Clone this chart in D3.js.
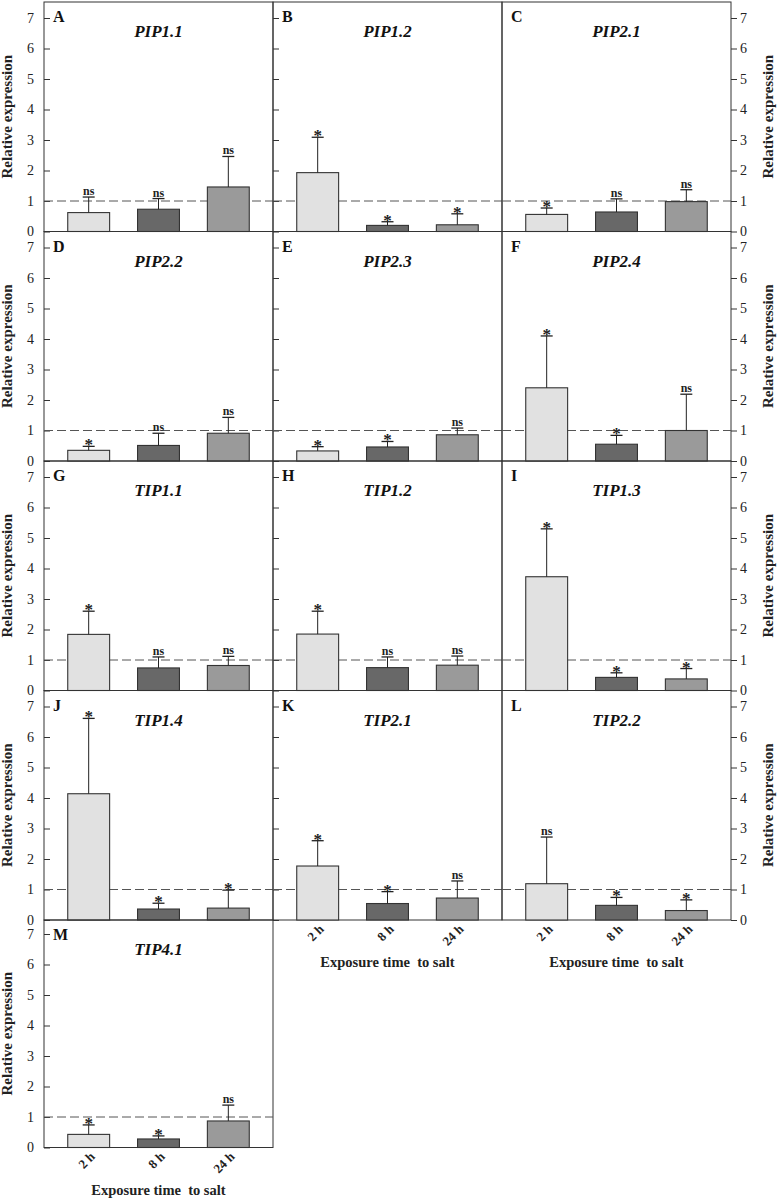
<!DOCTYPE html>
<html>
<head>
<meta charset="utf-8">
<script src="https://cdn.jsdelivr.net/npm/d3@7"></script>
<style>
  html, body { margin: 0; padding: 0; background: #fff; }
  svg { display: block; }
  svg text { font-family: "Liberation Serif", "DejaVu Serif", serif !important; }
</style>
</head>
<body>
<svg id="chart" width="779" height="1200" font-family="Liberation Serif, DejaVu Serif, serif"></svg>
<script>
// ---------------- data ----------------
const genes   = ["PIP1.1","PIP1.2","PIP2.1","PIP2.2","PIP2.3","PIP2.4","TIP1.1","TIP1.2","TIP1.3","TIP1.4","TIP2.1","TIP2.2","TIP4.1"];
const letters = ["A","B","C","D","E","F","G","H","I","J","K","L","M"];
const times   = ["2 h","8 h","24 h"];
const yTicks  = [0,1,2,3,4,5,6,7];

const mean2h  = [0.62,1.93,0.56,0.35,0.33,2.40,1.84,1.85,3.73,4.14,1.77,1.19,0.43];
const mean8h  = [0.73,0.20,0.64,0.51,0.46,0.55,0.74,0.75,0.43,0.36,0.54,0.48,0.28];
const mean24h = [1.46,0.22,0.98,0.91,0.86,1.00,0.82,0.83,0.38,0.39,0.72,0.31,0.87];

const sd2h    = [0.51,1.16,0.21,0.13,0.14,1.70,0.76,0.75,1.57,2.47,0.83,1.53,0.31];
const sd8h    = [0.35,0.12,0.43,0.40,0.18,0.29,0.36,0.35,0.15,0.19,0.39,0.26,0.10];
const sd24h   = [1.00,0.36,0.39,0.52,0.22,1.19,0.30,0.30,0.34,0.59,0.56,0.35,0.52];

const sig2h   = ["ns","*","*","*","*","*","*","*","*","*","*","ns","*"];
const sig8h   = ["ns","*","ns","ns","*","*","ns","ns","*","*","*","*","*"];
const sig24h  = ["ns","*","ns","ns","ns","ns","ns","ns","*","*","ns","*","ns"];

const referenceLevel = 1;
const yLabel = "Relative expression";
const xLabel = "Exposure time\u00a0 to salt";

// ---------------- layout ----------------
const FONT = '"Liberation Serif", "DejaVu Serif", serif';
const svg = d3.select("#chart");
const colLefts = [44, 273, 502];
const panelW = 229;
const rowBottoms = [231.5, 461, 690.5, 920, 1147.5];
const rowTops = [2, 231.5, 461, 690.5, 920];
const unitPx = 30.5;
const fills = ["#e1e1e1", "#686868", "#9a9a9a"];
const stroke = "#333";

const means = [mean2h, mean8h, mean24h];
const sds = [sd2h, sd8h, sd24h];
const sigs = [sig2h, sig8h, sig24h];

function txt(sel) { return sel.style("font-family", FONT); }

genes.forEach((gene, i) => {
  const row = Math.floor(i / 3), col = i % 3;
  const left = colLefts[col], right = left + panelW;
  const top = rowTops[row], bottom = rowBottoms[row];
  const g = svg.append("g");

  const x = d3.scaleBand().domain(times).range([left, right]).paddingInner(0.4).paddingOuter(0.34);
  const y = d3.scaleLinear().domain([0, 7]).range([bottom, bottom - 7 * unitPx]);

  // frame
  g.append("rect").attr("x", left).attr("y", top).attr("width", panelW).attr("height", bottom - top)
    .attr("fill", "none").attr("stroke", stroke).attr("stroke-width", 1);

  // axes
  if (col === 0) {
    const ax = g.append("g").attr("transform", `translate(${left},0)`)
      .call(d3.axisLeft(y).tickValues(yTicks).tickFormat(d3.format("d")).tickSizeInner(-6).tickSizeOuter(0).tickPadding(10));
    ax.attr("font-family", null);
    ax.select(".domain").remove();
    ax.selectAll("line").attr("stroke", stroke);
    txt(ax.selectAll("text").attr("font-size", 14).attr("fill", "#222"));
    txt(g.append("text").attr("transform", `translate(12,${(top + bottom) / 2}) rotate(-90)`)
      .attr("text-anchor", "middle").attr("font-weight", "bold").attr("font-size", 15).attr("fill", "#222")
      .text(yLabel));
  } else if (col === 1) {
    const ax = g.append("g").attr("transform", `translate(${left},0)`)
      .call(d3.axisLeft(y).tickValues(yTicks).tickSizeInner(-6).tickSizeOuter(0).tickFormat(""));
    ax.select(".domain").remove();
    ax.selectAll("line").attr("stroke", stroke);
  } else {
    const ax = g.append("g").attr("transform", `translate(${right},0)`)
      .call(d3.axisRight(y).tickValues(yTicks).tickFormat(d3.format("d")).tickSizeInner(6).tickSizeOuter(0).tickPadding(3));
    ax.attr("font-family", null);
    ax.select(".domain").remove();
    ax.selectAll("line").attr("stroke", stroke);
    txt(ax.selectAll("text").attr("font-size", 14).attr("fill", "#222"));
    txt(g.append("text").attr("transform", `translate(773,${(top + bottom) / 2}) rotate(-90)`)
      .attr("text-anchor", "middle").attr("font-weight", "bold").attr("font-size", 15).attr("fill", "#222")
      .text(yLabel));
  }

  // reference dashed line
  g.append("line").attr("x1", left).attr("x2", right)
    .attr("y1", y(referenceLevel)).attr("y2", y(referenceLevel))
    .attr("stroke", "#555").attr("stroke-width", 1).attr("stroke-dasharray", "9,4");

  const data = times.map((t, k) => ({ t, k, m: means[k][i], s: sds[k][i], sig: sigs[k][i] }));

  // bars
  g.selectAll("rect.bar").data(data).join("rect").attr("class", "bar")
    .attr("x", d => x(d.t)).attr("width", x.bandwidth())
    .attr("y", d => y(d.m)).attr("height", d => y(0) - y(d.m))
    .attr("fill", d => fills[d.k]).attr("stroke", stroke).attr("stroke-width", 1.1);

  // error bars
  const capW = 12;
  g.selectAll("line.err").data(data).join("line").attr("class", "err")
    .attr("x1", d => x(d.t) + x.bandwidth() / 2).attr("x2", d => x(d.t) + x.bandwidth() / 2)
    .attr("y1", d => y(d.m)).attr("y2", d => y(d.m + d.s))
    .attr("stroke", "#222").attr("stroke-width", 1);
  g.selectAll("line.cap").data(data).join("line").attr("class", "cap")
    .attr("x1", d => x(d.t) + x.bandwidth() / 2 - capW / 2).attr("x2", d => x(d.t) + x.bandwidth() / 2 + capW / 2)
    .attr("y1", d => y(d.m + d.s)).attr("y2", d => y(d.m + d.s))
    .attr("stroke", "#222").attr("stroke-width", 1.3);

  // significance labels
  txt(g.selectAll("text.sig").data(data).join("text").attr("class", "sig")
    .attr("x", d => x(d.t) + x.bandwidth() / 2)
    .attr("y", d => y(d.m + d.s) + (d.sig === "*" ? 4 : -2))
    .attr("text-anchor", "middle").attr("font-weight", "bold")
    .attr("font-size", d => d.sig === "*" ? 17 : 12).attr("fill", "#222")
    .text(d => d.sig));

  // panel letter and gene title
  txt(g.append("text").attr("x", left + 9).attr("y", top + 20)
    .attr("font-weight", "bold").attr("font-size", 16).attr("fill", "#111").text(letters[i]));
  txt(g.append("text").attr("x", (left + right) / 2).attr("y", top + 35)
    .attr("text-anchor", "middle").attr("font-weight", "bold").attr("font-style", "italic")
    .attr("font-size", 17).attr("fill", "#111").text(gene));

  // x-axis labels for bottom panels in each column
  const isBottom = (col === 0 && row === 4) || (col > 0 && row === 3);
  if (isBottom) {
    txt(g.selectAll("text.xt").data(data).join("text").attr("class", "xt")
      .attr("transform", d => `translate(${x(d.t) + x.bandwidth() / 2 + 7},${bottom + 10}) rotate(-45)`)
      .attr("text-anchor", "end").attr("font-weight", "bold").attr("font-size", 13).attr("fill", "#222")
      .text(d => d.t));
    txt(g.append("text").attr("x", (left + right) / 2).attr("y", bottom + 47)
      .attr("text-anchor", "middle").attr("font-weight", "bold").attr("font-size", 14.5).attr("fill", "#222")
      .style("white-space", "pre")
      .text(xLabel));
  }
});
</script>
</body>
</html>
